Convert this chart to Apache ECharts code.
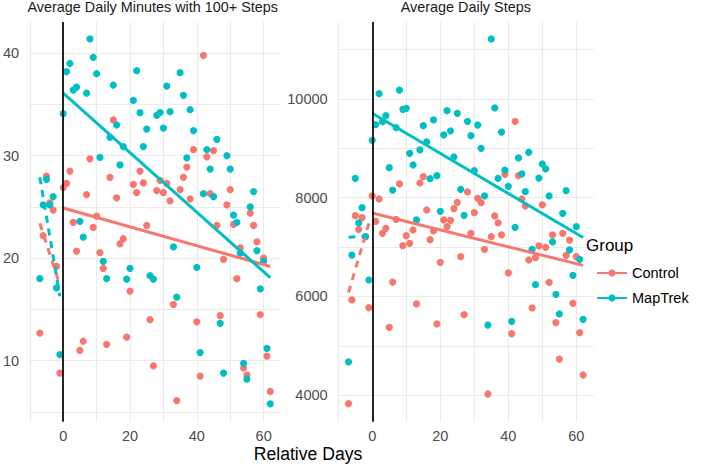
<!DOCTYPE html>
<html><head><meta charset="utf-8">
<script src="https://cdn.jsdelivr.net/npm/echarts@6/dist/echarts.min.js"></script>
<style>html,body{margin:0;padding:0;background:#fff}#c{width:709px;height:466px}</style>
</head><body><div id="c"></div>
<script>
const preDays = [-7, -6, -5, -4, -3, -2, -1];
const postDays = [0,1,2,3,4,5,6,7,8,9,10,11,12,13,14,15,16,17,18,19,20,21,22,23,24,25,26,27,28,29,30,31,32,33,34,35,36,37,38,39,40,41,42,43,44,45,46,47,48,49,50,51,52,53,54,55,56,57,58,59,60,61,62];

const minutesControlPre = [12.7, 22.2, 28.0, 25.4, 24.7, 19.2, 8.8];
const minutesMapTrekPre = [18.0, 25.2, 27.7, 25.2, 26.0, 17.1, 10.6];
const minutesControlPost = [26.9, 27.3, 28.5, 23.5, 20.7, 11.0, 11.9, 26.2, 29.7, 23.0,
  24.1, 20.55, 19.0, 11.6, 27.9, 33.5, 25.9, 21.4, 21.9, 12.3,
  16.8, 27.2, 26.4, 28.5, 27.35, 23.2, 14.0, 9.5, 26.6, 27.6,
  26.4, 27.3, 25.6, 15.5, 6.1, 26.7, 27.9, 28.9, 25.8, 30.6,
  13.8, 8.5, 39.8, 29.9, 26.3, 30.5, 23.2, 14.4, 19.9, 25.2,
  26.7, 23.3, 18.0, 21.0, 9.3, 8.6, 24.4, 23.2, 21.6, 14.5,
  20.0, 10.45, 7.0];
const minutesMapTrekPost = [34.1, 38.2, 39.0, 36.4, 36.7, 23.6, 22.05, 36.1, 41.4, 39.6,
  38.0, 29.85, 19.7, 18.0, 31.8, 36.9, 33.0, 29.1, 30.9, 17.95,
  19.0, 35.4, 38.3, 34.2, 30.9, 32.6, 18.3, 17.95, 33.95, 34.2,
  32.7, 36.8, 34.3, 21.1, 16.2, 38.1, 35.9, 29.8, 34.5, 32.45,
  19.1, 10.8, 26.3, 30.6, 28.7, 26.0, 31.6, 13.65, 8.8, 30.0,
  28.7, 24.2, 23.5, 20.5, 9.75, 8.2, 25.0, 26.5, 20.75, 17.0,
  19.7, 11.2, 5.8];

const stepsControlPre = [3827, 5928, 7636, 7360, 7595, 7210, 5772];
const stepsMapTrekPre = [4672, 6839, 8393, 7490, 7798, 7210, 6333];
const stepsControlPost = [8035, 7520, 7974, 7279, 7380, 5375, 6292, 7563, 8278, 7028,
  7231, 7077, 7346, 5847, 8298, 8426, 7751, 7150, 7326, 5442,
  6692, 7550, 7413, 7542, 7778, 7907, 6806, 5630, 8116, 7279,
  7696, 7988, 7899, 6955, 4023, 7210, 7630, 7490, 7245, 8474,
  6475, 5245, 9548, 8446, 7974, 7832, 6738, 5766, 6785, 7022,
  7853, 6996, 6286, 7245, 5468, 4732, 7279, 6833, 7143, 5861,
  6806, 5265, 4408];
const stepsMapTrekPost = [9163, 9480, 10107, 9540, 9662, 8609, 8156, 9419, 10182, 9791,
  9812, 8900, 8663, 7549, 8967, 9459, 9129, 8385, 9575, 8446,
  7725, 9271, 9763, 9352, 8825, 9710, 8170, 7644, 9548, 9257,
  8547, 9473, 9001, 8035, 5421, 11216, 9818, 8393, 9331, 8561,
  8231, 5496, 7401, 8805, 8481, 8122, 8920, 6955, 6238, 8399,
  8683, 8582, 8035, 7103, 6043, 5644, 7684, 8142, 6941, 6428,
  7413, 6752, 5537];

// fitted trend lines (endpoints)
const preFitDays = [-7, -1];
const postFitDays = [0, 62];
const minutesFitControlPre = [23.4, 17.4];
const minutesFitMapTrekPre = [27.9, 16.3];
const minutesFitControlPost = [24.9, 19.2];
const minutesFitMapTrekPost = [36.1, 18.1];
const stepsFitControlPre = [6080, 7480];
const stepsFitMapTrekPre = [7200, 7220];
const stepsFitControlPost = [7690, 6630];
const stepsFitMapTrekPost = [9710, 7195];

// axis ticks
const xGridTicks = [-10, 0, 10, 20, 30, 40, 50, 60];
const xTickLabels = [0, 20, 40, 60];
const minutesGridTicks = [5, 10, 15, 20, 25, 30, 35, 40];
const minutesTickLabels = [10, 20, 30, 40];
const stepsGridTicks = [4000, 5000, 6000, 7000, 8000, 9000, 10000, 11000];
const stepsTickLabels = [4000, 6000, 8000, 10000];

const groups = ['Control', 'MapTrek'];
const panelTitles = ['Average Daily Minutes with 100+ Steps', 'Average Daily Steps'];
const xTitle = 'Relative Days';
const legendTitle = 'Group';

const RED = '#F8766D', TEAL = '#00BFC4';
const FONT = '"Liberation Sans", Arial, Helvetica, sans-serif';

function pts(days, vals) { return days.map((d, i) => [d, vals[i]]); }
const plain = v => String(v);

function xAxisCfg(i) {
  return {
    type: 'value', gridIndex: i, min: -10.2, max: 65.2,
    axisLine: { show: false },
    axisTick: { show: false, customValues: xGridTicks },
    axisLabel: { customValues: xTickLabels, formatter: plain, margin: 7, fontSize: 14.5, color: '#4d4d4d', fontFamily: FONT },
    splitLine: { show: true, lineStyle: { color: '#ebebeb', width: 1.1 } }
  };
}
function yAxisCfg(i, min, max, ticks, labels) {
  return {
    type: 'value', gridIndex: i, min: min, max: max,
    axisLine: { show: false },
    axisTick: { show: false, customValues: ticks },
    axisLabel: { customValues: labels, formatter: plain, margin: 10, fontSize: 14.5, color: '#4d4d4d', fontFamily: FONT },
    splitLine: { show: true, lineStyle: { color: '#ebebeb', width: 1.1 } }
  };
}

function panelSeries(i, cPre, tPre, cPost, tPost, fcPre, ftPre, fcPost, ftPost) {
  const base = { xAxisIndex: i, yAxisIndex: i, silent: true, animation: false };
  return [
    Object.assign({}, base, { type: 'scatter', name: 'Control points', z: 2, symbolSize: 7.2,
      itemStyle: { color: RED, opacity: 1 },
      data: pts(preDays, cPre).concat(pts(postDays, cPost)) }),
    Object.assign({}, base, { type: 'scatter', name: 'MapTrek points', z: 2, symbolSize: 7.2,
      itemStyle: { color: TEAL, opacity: 1 },
      data: pts(preDays, tPre).concat(pts(postDays, tPost)),
      markLine: { silent: true, z: 6, symbol: 'none', animation: false, label: { show: false },
        lineStyle: { color: '#000', width: 1.7, type: 'solid' }, data: [{ xAxis: 0 }] } }),
    Object.assign({}, base, { type: 'line', name: 'Control', z: 3, symbol: 'circle', symbolSize: 7, showSymbol: false,
      itemStyle: { color: RED }, lineStyle: { color: RED, width: 3 }, data: pts(postFitDays, fcPost) }),
    Object.assign({}, base, { type: 'line', name: 'MapTrek', z: 3, symbol: 'circle', symbolSize: 7, showSymbol: false,
      itemStyle: { color: TEAL }, lineStyle: { color: TEAL, width: 3 }, data: pts(postFitDays, ftPost) }),
    Object.assign({}, base, { type: 'line', name: 'Control pre', z: 3, symbol: 'none',
      lineStyle: { color: RED, width: 3, type: [7, 6] }, data: pts(preFitDays, fcPre) }),
    Object.assign({}, base, { type: 'line', name: 'MapTrek pre', z: 3, symbol: 'none',
      lineStyle: { color: TEAL, width: 3, type: [7, 6] }, data: pts(preFitDays, ftPre) })
  ];
}

const chart = echarts.init(document.getElementById('c'), null, { renderer: 'svg' });
chart.setOption({
  animation: false,
  backgroundColor: '#fff',
  textStyle: { fontFamily: FONT },
  title: [
    { text: panelTitles[0], left: 152.7, top: 0, textAlign: 'center', padding: 0,
      textStyle: { fontSize: 14.4, fontWeight: 'normal', color: '#1a1a1a', fontFamily: FONT } },
    { text: panelTitles[1], left: 465.8, top: 0, textAlign: 'center', padding: 0,
      textStyle: { fontSize: 14.4, fontWeight: 'normal', color: '#1a1a1a', fontFamily: FONT } },
    { text: xTitle, left: 308, top: 444.5, textAlign: 'center', padding: 0,
      textStyle: { fontSize: 17.6, fontWeight: 'normal', color: '#000', fontFamily: FONT } },
    { text: legendTitle, left: 586, top: 237, padding: 0,
      textStyle: { fontSize: 17, fontWeight: 'normal', color: '#000', fontFamily: FONT } }
  ],
  legend: {
    data: groups, orient: 'vertical', left: 596, top: 265, padding: 0,
    itemWidth: 30, itemHeight: 9, itemGap: 9, selectedMode: false,
    textStyle: { fontSize: 14.5, color: '#000', fontFamily: FONT, lineHeight: 16 }
  },
  grid: [
    { left: 24.6, top: 22, width: 256.4, height: 399.7 },
    { left: 337.6, top: 22, width: 256.4, height: 399.7 }
  ],
  xAxis: [xAxisCfg(0), xAxisCfg(1)],
  yAxis: [
    yAxisCfg(0, 4.05, 43.05, minutesGridTicks, minutesTickLabels),
    yAxisCfg(1, 3462, 11560, stepsGridTicks, stepsTickLabels)
  ],
  series: panelSeries(0, minutesControlPre, minutesMapTrekPre, minutesControlPost, minutesMapTrekPost,
      minutesFitControlPre, minutesFitMapTrekPre, minutesFitControlPost, minutesFitMapTrekPost)
    .concat(panelSeries(1, stepsControlPre, stepsMapTrekPre, stepsControlPost, stepsMapTrekPost,
      stepsFitControlPre, stepsFitMapTrekPre, stepsFitControlPost, stepsFitMapTrekPost))
});
</script></body></html>
